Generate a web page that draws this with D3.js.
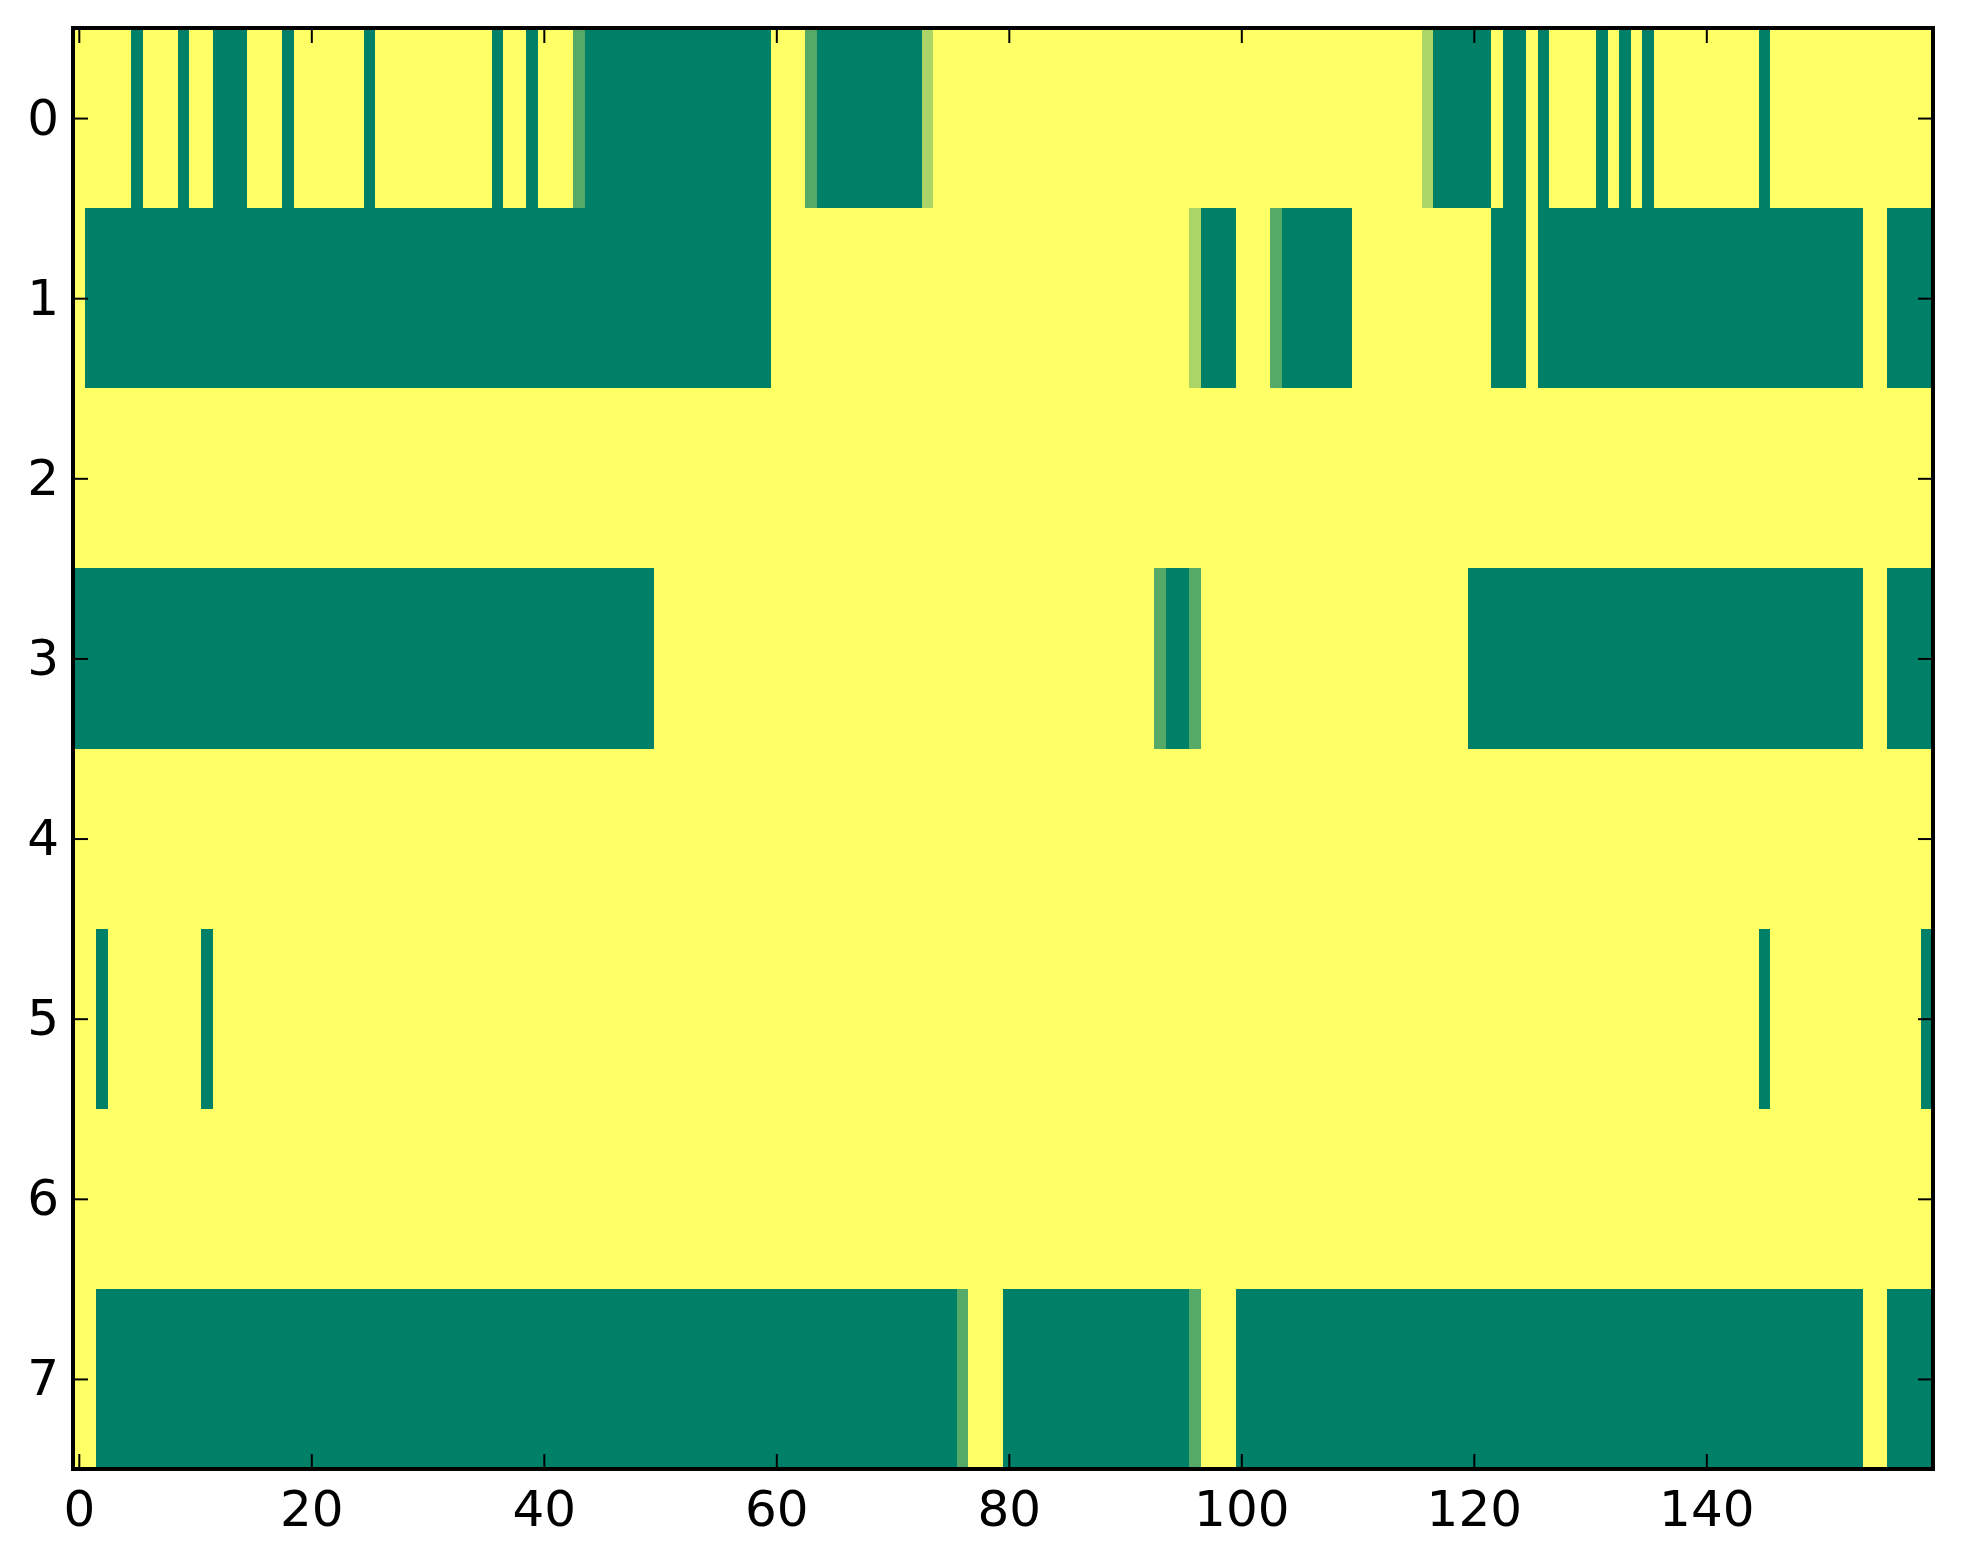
<!DOCTYPE html>
<html>
<head>
<meta charset="utf-8">
<script src="https://cdn.jsdelivr.net/npm/d3@7"></script>
<style>
  html, body { margin: 0; padding: 0; background: #ffffff; }
  svg { display: block; }
  .tick text { font-family: "DejaVu Sans", sans-serif; font-size: 50px; fill: #000; }
</style>
</head>
<body>
<svg id="chart" width="1963" height="1564"></svg>
<script>
// ---- Data: 8 rows x 160 columns (values 0..1, summer colormap) ----
const rowLabels = [0, 1, 2, 3, 4, 5, 6, 7];
const xTickValues = [0, 20, 40, 60, 80, 100, 120, 140];

const row0 = [
  1,1,1,1,1,0,1,1,1,0,1,1,0,0,0,1,1,1,0,1,
  1,1,1,1,1,0,1,1,1,1,1,1,1,1,1,1,0,1,1,0,
  1,1,1,0.33,0,0,0,0,0,0,0,0,0,0,0,0,0,0,0,0,
  1,1,1,0.33,0,0,0,0,0,0,0,0,0,0.67,1,1,1,1,1,1,
  1,1,1,1,1,1,1,1,1,1,1,1,1,1,1,1,1,1,1,1,
  1,1,1,1,1,1,1,1,1,1,1,1,1,1,1,1,0.67,0,0,0,
  0,0,1,0,0,1,0,1,1,1,1,0,1,0,1,0,1,1,1,1,
  1,1,1,1,1,0,1,1,1,1,1,1,1,1,1,1,1,1,1,1
];
const row1 = [
  1,0,0,0,0,0,0,0,0,0,0,0,0,0,0,0,0,0,0,0,
  0,0,0,0,0,0,0,0,0,0,0,0,0,0,0,0,0,0,0,0,
  0,0,0,0,0,0,0,0,0,0,0,0,0,0,0,0,0,0,0,0,
  1,1,1,1,1,1,1,1,1,1,1,1,1,1,1,1,1,1,1,1,
  1,1,1,1,1,1,1,1,1,1,1,1,1,1,1,1,0.67,0,0,0,
  1,1,1,0.33,0,0,0,0,0,0,1,1,1,1,1,1,1,1,1,1,
  1,1,0,0,0,1,0,0,0,0,0,0,0,0,0,0,0,0,0,0,
  0,0,0,0,0,0,0,0,0,0,0,0,0,0,1,1,0,0,0,0
];
const row2 = [
  1,1,1,1,1,1,1,1,1,1,1,1,1,1,1,1,1,1,1,1,
  1,1,1,1,1,1,1,1,1,1,1,1,1,1,1,1,1,1,1,1,
  1,1,1,1,1,1,1,1,1,1,1,1,1,1,1,1,1,1,1,1,
  1,1,1,1,1,1,1,1,1,1,1,1,1,1,1,1,1,1,1,1,
  1,1,1,1,1,1,1,1,1,1,1,1,1,1,1,1,1,1,1,1,
  1,1,1,1,1,1,1,1,1,1,1,1,1,1,1,1,1,1,1,1,
  1,1,1,1,1,1,1,1,1,1,1,1,1,1,1,1,1,1,1,1,
  1,1,1,1,1,1,1,1,1,1,1,1,1,1,1,1,1,1,1,1
];
const row3 = [
  0,0,0,0,0,0,0,0,0,0,0,0,0,0,0,0,0,0,0,0,
  0,0,0,0,0,0,0,0,0,0,0,0,0,0,0,0,0,0,0,0,
  0,0,0,0,0,0,0,0,0,0,1,1,1,1,1,1,1,1,1,1,
  1,1,1,1,1,1,1,1,1,1,1,1,1,1,1,1,1,1,1,1,
  1,1,1,1,1,1,1,1,1,1,1,1,1,0.33,0,0,0.33,1,1,1,
  1,1,1,1,1,1,1,1,1,1,1,1,1,1,1,1,1,1,1,1,
  0,0,0,0,0,0,0,0,0,0,0,0,0,0,0,0,0,0,0,0,
  0,0,0,0,0,0,0,0,0,0,0,0,0,0,1,1,0,0,0,0
];
const row4 = [
  1,1,1,1,1,1,1,1,1,1,1,1,1,1,1,1,1,1,1,1,
  1,1,1,1,1,1,1,1,1,1,1,1,1,1,1,1,1,1,1,1,
  1,1,1,1,1,1,1,1,1,1,1,1,1,1,1,1,1,1,1,1,
  1,1,1,1,1,1,1,1,1,1,1,1,1,1,1,1,1,1,1,1,
  1,1,1,1,1,1,1,1,1,1,1,1,1,1,1,1,1,1,1,1,
  1,1,1,1,1,1,1,1,1,1,1,1,1,1,1,1,1,1,1,1,
  1,1,1,1,1,1,1,1,1,1,1,1,1,1,1,1,1,1,1,1,
  1,1,1,1,1,1,1,1,1,1,1,1,1,1,1,1,1,1,1,1
];
const row5 = [
  1,1,0,1,1,1,1,1,1,1,1,0,1,1,1,1,1,1,1,1,
  1,1,1,1,1,1,1,1,1,1,1,1,1,1,1,1,1,1,1,1,
  1,1,1,1,1,1,1,1,1,1,1,1,1,1,1,1,1,1,1,1,
  1,1,1,1,1,1,1,1,1,1,1,1,1,1,1,1,1,1,1,1,
  1,1,1,1,1,1,1,1,1,1,1,1,1,1,1,1,1,1,1,1,
  1,1,1,1,1,1,1,1,1,1,1,1,1,1,1,1,1,1,1,1,
  1,1,1,1,1,1,1,1,1,1,1,1,1,1,1,1,1,1,1,1,
  1,1,1,1,1,0,1,1,1,1,1,1,1,1,1,1,1,1,1,0
];
const row6 = [
  1,1,1,1,1,1,1,1,1,1,1,1,1,1,1,1,1,1,1,1,
  1,1,1,1,1,1,1,1,1,1,1,1,1,1,1,1,1,1,1,1,
  1,1,1,1,1,1,1,1,1,1,1,1,1,1,1,1,1,1,1,1,
  1,1,1,1,1,1,1,1,1,1,1,1,1,1,1,1,1,1,1,1,
  1,1,1,1,1,1,1,1,1,1,1,1,1,1,1,1,1,1,1,1,
  1,1,1,1,1,1,1,1,1,1,1,1,1,1,1,1,1,1,1,1,
  1,1,1,1,1,1,1,1,1,1,1,1,1,1,1,1,1,1,1,1,
  1,1,1,1,1,1,1,1,1,1,1,1,1,1,1,1,1,1,1,1
];
const row7 = [
  1,1,0,0,0,0,0,0,0,0,0,0,0,0,0,0,0,0,0,0,
  0,0,0,0,0,0,0,0,0,0,0,0,0,0,0,0,0,0,0,0,
  0,0,0,0,0,0,0,0,0,0,0,0,0,0,0,0,0,0,0,0,
  0,0,0,0,0,0,0,0,0,0,0,0,0,0,0,0,0.33,1,1,1,
  0,0,0,0,0,0,0,0,0,0,0,0,0,0,0,0,0.33,1,1,1,
  0,0,0,0,0,0,0,0,0,0,0,0,0,0,0,0,0,0,0,0,
  0,0,0,0,0,0,0,0,0,0,0,0,0,0,0,0,0,0,0,0,
  0,0,0,0,0,0,0,0,0,0,0,0,0,0,1,1,0,0,0,0
];
const rows = [row0, row1, row2, row3, row4, row5, row6, row7];

// ---- Layout ----
const W = 1963, H = 1564;
const plot = { left: 73, right: 1933, top: 28, bottom: 1469 };
const nCols = row0.length;

const svg = d3.select("#chart");
svg.append("rect").attr("width", W).attr("height", H).attr("fill", "#ffffff");

const x = d3.scaleLinear().domain([-0.5, nCols - 0.5]).range([plot.left, plot.right]);
const y = d3.scaleLinear().domain([-0.5, rows.length - 0.5]).range([plot.top, plot.bottom]);
const color = d3.scaleLinear().domain([0, 1])
  .range(["rgb(0,128,102)", "rgb(255,255,102)"])
  .interpolate(d3.interpolateRgb);

const cells = [];
rows.forEach((r, ri) => r.forEach((v, ci) => cells.push({ r: ri, c: ci, v })));

svg.append("g").attr("shape-rendering", "crispEdges")
  .selectAll("rect").data(cells).join("rect")
  .attr("x", d => x(d.c - 0.5))
  .attr("y", d => y(d.r - 0.5))
  .attr("width", d => x(d.c + 0.5) - x(d.c - 0.5) + 0.5)
  .attr("height", d => y(d.r + 0.5) - y(d.r - 0.5) + 0.5)
  .attr("fill", d => color(d.v));

const tickLen = 15;
function styleAxis(g) {
  g.select(".domain").remove();
  g.selectAll(".tick line").attr("stroke", "#000").attr("stroke-width", 2);
  g.selectAll(".tick text").attr("font-family", "DejaVu Sans, sans-serif").attr("font-size", 50);
}

svg.append("g").attr("transform", `translate(0,${plot.bottom})`)
  .call(d3.axisBottom(x).tickValues(xTickValues).tickSizeInner(-tickLen).tickSizeOuter(0).tickPadding(21))
  .call(styleAxis);
svg.append("g").attr("transform", `translate(0,${plot.top})`)
  .call(d3.axisTop(x).tickValues(xTickValues).tickSizeInner(-tickLen).tickSizeOuter(0).tickFormat(""))
  .call(styleAxis);
svg.append("g").attr("transform", `translate(${plot.left},0)`)
  .call(d3.axisLeft(y).tickValues(rowLabels).tickSizeInner(-tickLen).tickSizeOuter(0).tickPadding(14))
  .call(styleAxis);
svg.append("g").attr("transform", `translate(${plot.right},0)`)
  .call(d3.axisRight(y).tickValues(rowLabels).tickSizeInner(-tickLen).tickSizeOuter(0).tickFormat(""))
  .call(styleAxis);

svg.append("rect")
  .attr("x", plot.left).attr("y", plot.top)
  .attr("width", plot.right - plot.left).attr("height", plot.bottom - plot.top)
  .attr("fill", "none").attr("stroke", "#000").attr("stroke-width", 4);
</script>
</body>
</html>
